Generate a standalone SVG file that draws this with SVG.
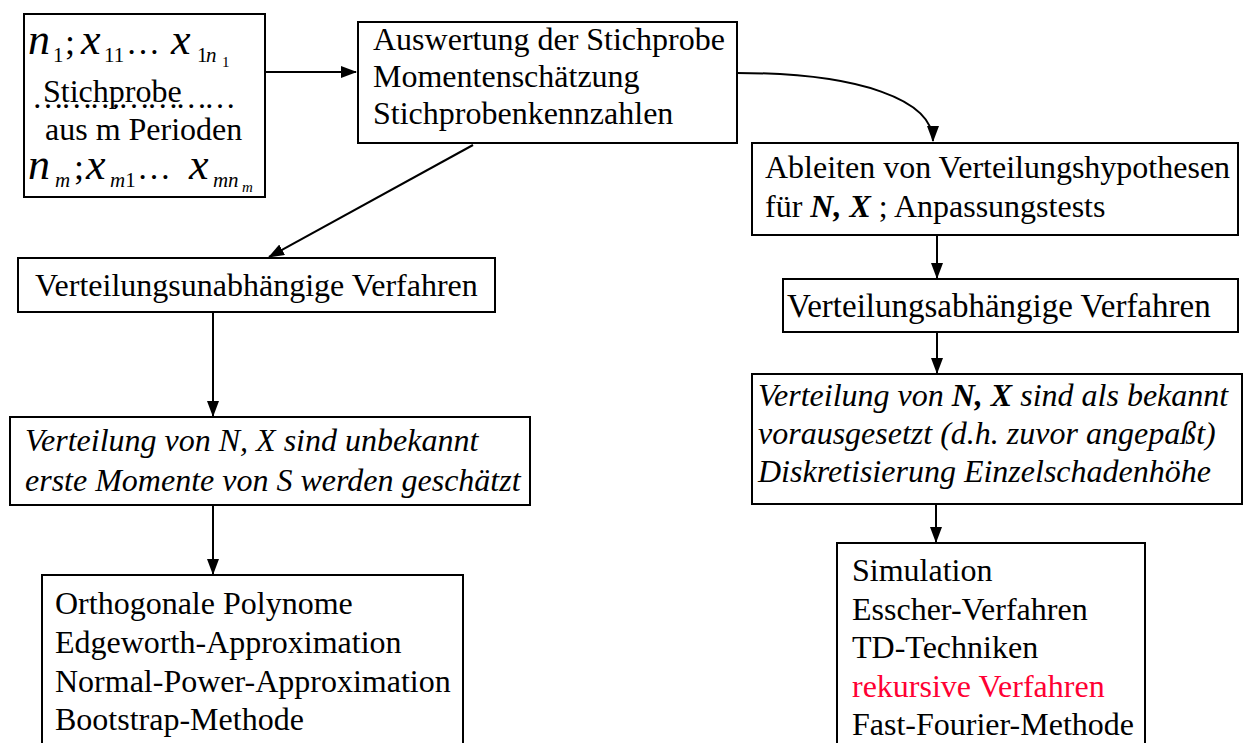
<svg xmlns="http://www.w3.org/2000/svg" width="1243" height="743" viewBox="0 0 1243 743">
<style>
.box{fill:#fff;stroke:#000;stroke-width:2}
.t{font-family:"Liberation Serif","Times New Roman",serif;font-size:32px;fill:#000}
.i{font-style:italic}
.bi{font-style:italic;font-weight:bold}
.m{font-family:"Liberation Serif","Times New Roman",serif;fill:#000}
.c{fill:none;stroke:#000;stroke-width:2}
</style>
<defs>
<marker id="ah" markerUnits="userSpaceOnUse" markerWidth="16" markerHeight="12" refX="15" refY="6" orient="auto">
<path d="M0,0 L16,6 L0,12 Z" fill="#000"/>
</marker>
</defs>
<rect width="1243" height="743" fill="#fff"/>
<g id="connectors">
<path class="c" d="M265,72 L356,72" marker-end="url(#ah)"/>
<path class="c" d="M737,73 C860,73 933,100 933,141" marker-end="url(#ah)"/>
<path class="c" d="M473,145 L269,257" marker-end="url(#ah)"/>
<path class="c" d="M213,312 L213,416" marker-end="url(#ah)"/>
<path class="c" d="M213,505 L213,574" marker-end="url(#ah)"/>
<path class="c" d="M937,235 L937,278" marker-end="url(#ah)"/>
<path class="c" d="M937,332 L937,373" marker-end="url(#ah)"/>
<path class="c" d="M936,504 L936,542" marker-end="url(#ah)"/>
</g>
<g id="sample">
<rect class="box" x="24" y="14" width="241" height="183"/>
<text class="m i" x="28" y="54" font-size="44">n</text>
<text class="m" x="53" y="62" font-size="21">1</text>
<text class="m" x="65" y="54" font-size="36">;</text>
<text class="m i" x="81" y="54" font-size="44">x</text>
<text class="m" x="104" y="62" font-size="21">11</text>
<text class="m" x="126" y="54" font-size="34">…</text>
<text class="m i" x="171" y="54" font-size="44">x</text>
<text class="m" x="197" y="62" font-size="21">1</text>
<text class="m i" x="206" y="62" font-size="21">n</text>
<text class="m" x="222" y="67" font-size="15">1</text>
<text class="t" x="32" y="108" textLength="204" lengthAdjust="spacing">…………………</text>
<text class="t" x="43" y="102">Stichprobe</text>
<text class="t" x="45" y="140">aus m Perioden</text>
<text class="m i" x="28" y="179" font-size="44">n</text>
<text class="m i" x="55" y="187" font-size="21">m</text>
<text class="m" x="74" y="179" font-size="36">;</text>
<text class="m i" x="86" y="179" font-size="44">x</text>
<text class="m" x="110" y="187" font-size="21"><tspan font-style="italic">m</tspan>1</text>
<text class="m" x="137" y="179" font-size="34">…</text>
<text class="m i" x="189" y="179" font-size="44">x</text>
<text class="m i" x="213" y="187" font-size="21">m</text>
<text class="m i" x="228" y="187" font-size="21">n</text>
<text class="m i" x="242" y="192" font-size="15">m</text>
</g>
<g id="auswertung">
<rect class="box" x="358" y="22" width="379" height="121"/>
<text class="t" x="373" y="50">Auswertung der Stichprobe</text>
<text class="t" x="373" y="87">Momentenschätzung</text>
<text class="t" x="373" y="124">Stichprobenkennzahlen</text>
</g>
<g id="hypothesen">
<rect class="box" x="752" y="143" width="486" height="92"/>
<text class="t" x="765" y="178">Ableiten von Verteilungshypothesen</text>
<text class="t" x="765" y="217">für <tspan class="bi">N, X</tspan> ; Anpassungstests</text>
</g>
<g id="unabhaengig">
<rect class="box" x="18" y="258" width="477" height="54"/>
<text class="t" x="35" y="296">Verteilungsunabhängige Verfahren</text>
</g>
<g id="unbekannt">
<rect class="box" x="10" y="417" width="520" height="88"/>
<text class="t i" x="25" y="451">Verteilung von N, X sind unbekannt</text>
<text class="t i" x="25" y="491">erste Momente von S werden geschätzt</text>
</g>
<g id="methoden-links">
<rect class="box" x="42" y="575" width="421" height="180"/>
<text class="t" x="55" y="614">Orthogonale Polynome</text>
<text class="t" x="55" y="653">Edgeworth-Approximation</text>
<text class="t" x="55" y="692">Normal-Power-Approximation</text>
<text class="t" x="55" y="730">Bootstrap-Methode</text>
</g>
<g id="abhaengig">
<rect class="box" x="783" y="279" width="455" height="53"/>
<text class="t" x="787" y="317" style="font-size:33px">Verteilungsabhängige Verfahren</text>
</g>
<g id="bekannt">
<rect class="box" x="752" y="374" width="490" height="130"/>
<text class="t i" x="758" y="406">Verteilung von <tspan class="bi">N, X</tspan> sind als bekannt</text>
<text class="t i" x="758" y="444">vorausgesetzt (d.h. zuvor angepaßt)</text>
<text class="t i" x="758" y="482">Diskretisierung Einzelschadenhöhe</text>
</g>
<g id="methoden-rechts">
<rect class="box" x="837" y="543" width="308" height="212"/>
<text class="t" x="852" y="581">Simulation</text>
<text class="t" x="852" y="620">Esscher-Verfahren</text>
<text class="t" x="852" y="658">TD-Techniken</text>
<text class="t" x="852" y="697" style="fill:#ff0033">rekursive Verfahren</text>
<text class="t" x="852" y="735">Fast-Fourier-Methode</text>
</g>
</svg>
